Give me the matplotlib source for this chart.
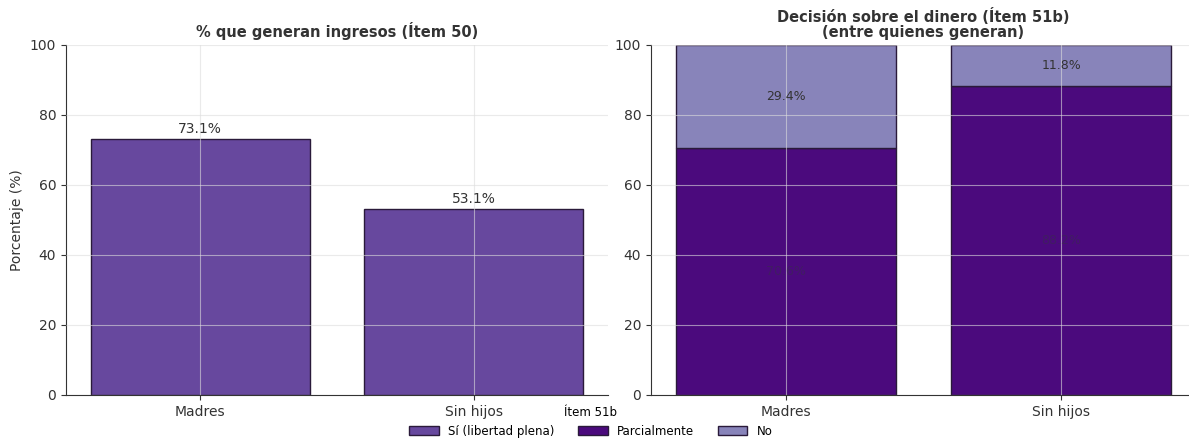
import numpy as np
import matplotlib
matplotlib.use('Agg')
import matplotlib.pyplot as plt

grupos = ['Madres', 'Sin hijos']
genera = [73.1, 53.1]
si_plena = [0.0, 0.0]
parcial = [70.6, 88.2]
no_dec = [29.4, 11.8]

c_si = '#67489e'
c_parc = '#4b0a7d'
c_no = '#8884ba'

plt.rcParams['font.family'] = 'DejaVu Sans'
fig = plt.figure(figsize=(11.89, 4.43), dpi=100)
ax1 = fig.add_axes([66/1189, 48/443, 542/1189, 350/443])
ax2 = fig.add_axes([651/1189, 48/443, 545/1189, 350/443])

x = np.arange(len(grupos))

for ax in (ax1, ax2):
    ax.set_axisbelow(False)
    ax.grid(True, color='#dddddd', linewidth=0.8, alpha=0.6)
    ax.spines['top'].set_visible(False)
    ax.spines['right'].set_visible(False)
    ax.spines['left'].set_color('#333333')
    ax.spines['bottom'].set_color('#333333')
    ax.tick_params(labelsize=10, colors='#333333')
    ax.set_ylim(0, 100)
    ax.set_xticks(x)
    ax.set_xticklabels(grupos)

b = ax1.bar(x, genera, width=0.8, color=c_si, edgecolor='#2a1a3a', linewidth=1, zorder=0.5)
for xi, v in zip(x, genera):
    ax1.text(xi, v + 1, f'{v:.1f}%', ha='center', va='bottom', fontsize=10, color='#333333')
ax1.set_title('% que generan ingresos (Ítem 50)', fontsize=10.5, fontweight='bold', color='#333333', pad=6)
ax1.set_ylabel('Porcentaje (%)', fontsize=10, color='#333333')

h1 = ax2.bar(x, si_plena, width=0.8, color=c_si, edgecolor='#2a1a3a', linewidth=1, zorder=0.5, label='Sí (libertad plena)')
h2 = ax2.bar(x, parcial, width=0.8, bottom=si_plena, color=c_parc, edgecolor='#2a1a3a', linewidth=1, zorder=0.5, label='Parcialmente')
bot = np.array(si_plena) + np.array(parcial)
h3 = ax2.bar(x, no_dec, width=0.8, bottom=bot, color=c_no, edgecolor='#2a1a3a', linewidth=1, zorder=0.5, label='No')
for xi in x:
    ax2.text(xi, si_plena[xi] + parcial[xi] / 2, f'{parcial[xi]:.1f}%', ha='center', va='center', fontsize=9, color='#3a2a50', alpha=0.6)
    ax2.text(xi, bot[xi] + no_dec[xi] / 2, f'{no_dec[xi]:.1f}%', ha='center', va='center', fontsize=9, color='#333333')
ax2.set_title('Decisión sobre el dinero (Ítem 51b)\n(entre quienes generan)', fontsize=10.5, fontweight='bold', color='#333333', pad=6, linespacing=1.0)

leg = fig.legend(handles=[h1, h2, h3], loc='lower center', bbox_to_anchor=(0.497, -0.012), ncol=3,
                 frameon=False, title='Ítem 51b', fontsize=8.5, title_fontsize=8.5,
                 handlelength=2.5, handleheight=0.8, columnspacing=2.0)

fig.savefig('out.png', dpi=100)
